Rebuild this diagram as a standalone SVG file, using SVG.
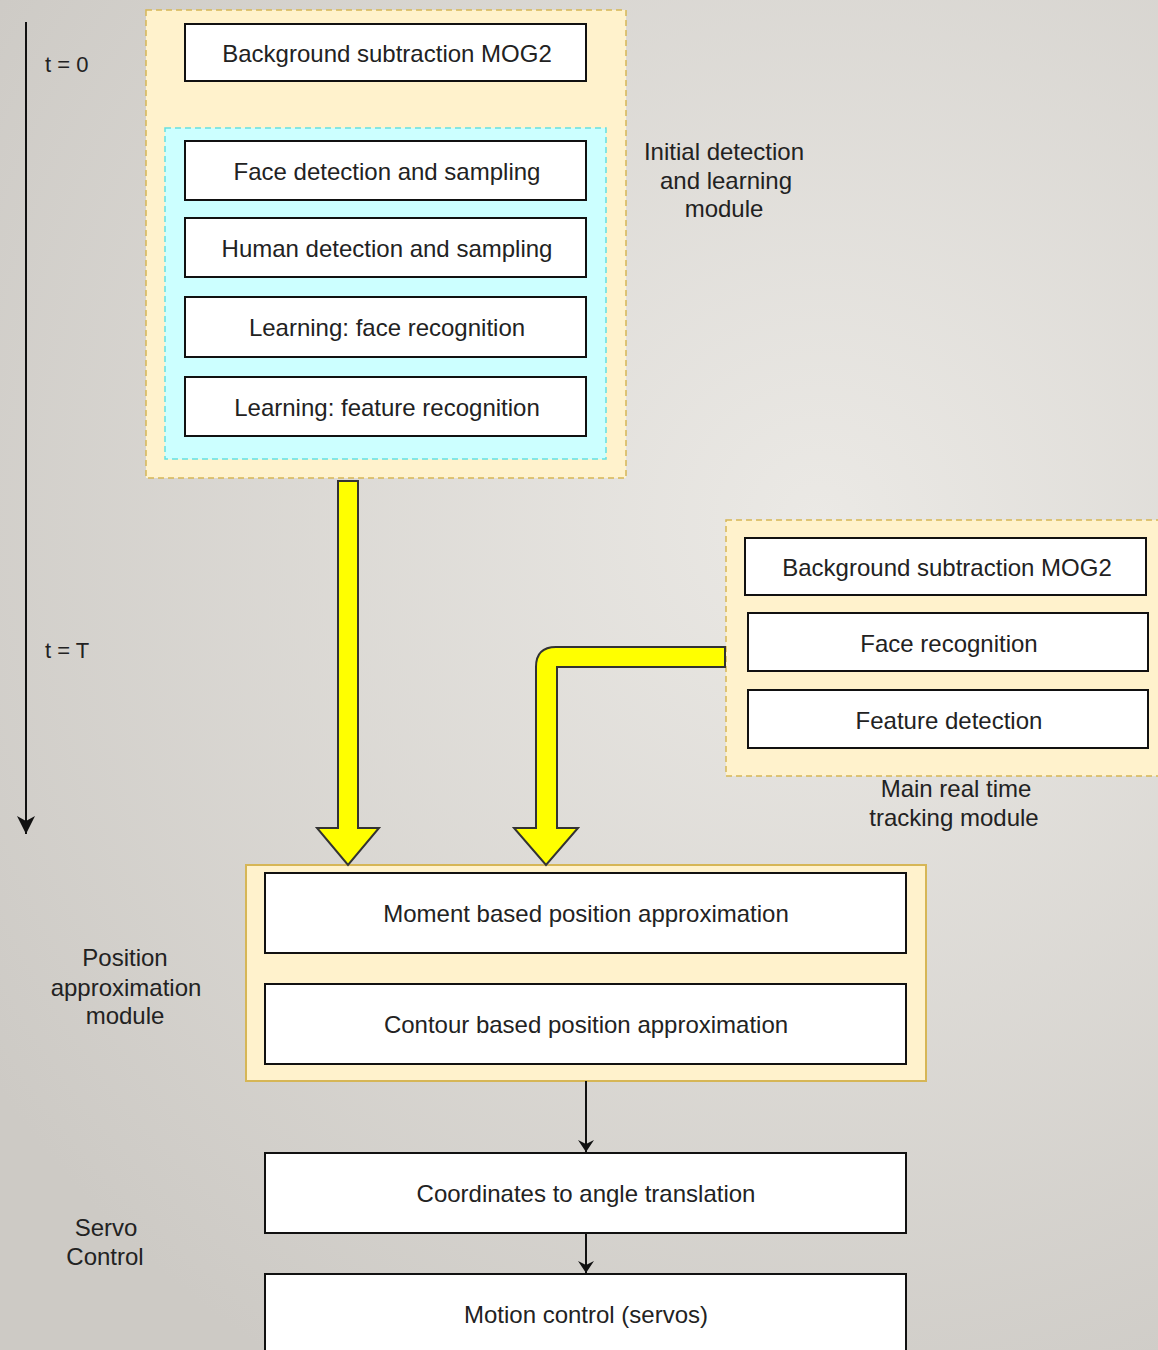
<svg xmlns="http://www.w3.org/2000/svg" width="1158" height="1350" viewBox="0 0 1158 1350">
<defs>
<radialGradient id="bg" cx="820" cy="520" r="1000" gradientUnits="userSpaceOnUse">
<stop offset="0" stop-color="#ebe9e5"/>
<stop offset="1" stop-color="#cdcac5"/>
</radialGradient>
<marker id="arr" viewBox="0 0 12 16" refX="12" refY="8" markerWidth="12" markerHeight="16" markerUnits="userSpaceOnUse" orient="auto">
<path d="M0,0 L12,8 L0,16 L4,8 Z" fill="#111"/>
</marker>
<marker id="arrBig" viewBox="0 0 18 18" refX="18" refY="9" markerWidth="18" markerHeight="18" markerUnits="userSpaceOnUse" orient="auto">
<path d="M0,0 L18,9 L0,18 L5,9 Z" fill="#111"/>
</marker>
</defs>
<style>
.t{font-family:"Liberation Sans",Arial,Helvetica,sans-serif;font-size:24px;fill:#222;text-anchor:middle}
.tl{font-family:"Liberation Sans",Arial,Helvetica,sans-serif;font-size:22px;fill:#222}
.box{fill:#fff;stroke:#111;stroke-width:2}
.grp{fill:#fff2cc;stroke:#d6b656;stroke-width:1.5;stroke-dasharray:6 4}
.grps{fill:#fff2cc;stroke:#d6b656;stroke-width:2}
.cyan{fill:#ccffff;stroke:#66e0e0;stroke-width:1.5;stroke-dasharray:6 4}
.yel{fill:#ffff00;stroke:#333;stroke-width:2;stroke-linejoin:miter}
.ln{fill:none;stroke:#111;stroke-width:2}
</style>
<rect x="0" y="0" width="1158" height="1350" fill="url(#bg)"/>

<g id="timeline">
<line class="ln" x1="26" y1="22" x2="26" y2="834" marker-end="url(#arrBig)"/>
<text class="tl" x="45" y="72">t = 0</text>
<text class="tl" x="45" y="658">t = T</text>
</g>

<g id="initial-module">
<rect class="grp" x="146" y="10" width="480" height="468"/>
<text class="t" x="724" y="160">Initial detection</text>
<text class="t" x="726" y="189">and learning</text>
<text class="t" x="724" y="217">module</text>
</g>
<g id="n-bg1">
<rect class="box" x="185" y="24" width="401" height="57"/>
<text class="t" x="387" y="62">Background subtraction MOG2</text>
</g>
<g id="learning-group">
<rect class="cyan" x="165" y="128" width="441" height="331"/>
</g>
<g id="n-face-det">
<rect class="box" x="185" y="141" width="401" height="59"/>
<text class="t" x="387" y="180">Face detection and sampling</text>
</g>
<g id="n-human-det">
<rect class="box" x="185" y="218" width="401" height="59"/>
<text class="t" x="387" y="257">Human detection and sampling</text>
</g>
<g id="n-learn-face">
<rect class="box" x="185" y="297" width="401" height="60"/>
<text class="t" x="387" y="336">Learning: face recognition</text>
</g>
<g id="n-learn-feat">
<rect class="box" x="185" y="377" width="401" height="59"/>
<text class="t" x="387" y="416">Learning: feature recognition</text>
</g>

<g id="tracking-module">
<rect class="grp" x="726" y="520" width="440" height="256"/>
<text class="t" x="956" y="797">Main real time</text>
<text class="t" x="954" y="826">tracking module</text>
</g>
<g id="n-bg2">
<rect class="box" x="745" y="538" width="401" height="57"/>
<text class="t" x="947" y="576">Background subtraction MOG2</text>
</g>
<g id="n-face-rec">
<rect class="box" x="748" y="613" width="400" height="58"/>
<text class="t" x="949" y="652">Face recognition</text>
</g>
<g id="n-feat-det">
<rect class="box" x="748" y="690" width="400" height="58"/>
<text class="t" x="949" y="729">Feature detection</text>
</g>

<g id="position-module">
<rect class="grps" x="246" y="865" width="680" height="216"/>
<text class="t" x="125" y="966">Position</text>
<text class="t" x="126" y="996">approximation</text>
<text class="t" x="125" y="1024">module</text>
</g>
<g id="n-moment">
<rect class="box" x="265" y="873" width="641" height="80"/>
<text class="t" x="586" y="922">Moment based position approximation</text>
</g>
<g id="n-contour">
<rect class="box" x="265" y="984" width="641" height="80"/>
<text class="t" x="586" y="1033">Contour based position approximation</text>
</g>

<g id="servo-label">
<text class="t" x="106" y="1236">Servo</text>
<text class="t" x="105" y="1265">Control</text>
</g>
<g id="n-coord">
<rect class="box" x="265" y="1153" width="641" height="80"/>
<text class="t" x="586" y="1202">Coordinates to angle translation</text>
</g>
<g id="n-motion">
<rect class="box" x="265" y="1274" width="641" height="90"/>
<text class="t" x="586" y="1323">Motion control (servos)</text>
</g>

<g id="connectors">
<path class="yel" d="M338,481 L358,481 L358,828 L379,828 L348,865 L317,828 L338,828 Z"/>
<path class="yel" d="M725,647 L725,667 L557,667 L557,828 L578,828 L546,865 L514,828 L536,828 L536,667 Q536,647 556,647 Z"/>
<line class="ln" x1="586" y1="1081" x2="586" y2="1152" marker-end="url(#arr)"/>
<line class="ln" x1="586" y1="1233" x2="586" y2="1273" marker-end="url(#arr)"/>
</g>
</svg>
